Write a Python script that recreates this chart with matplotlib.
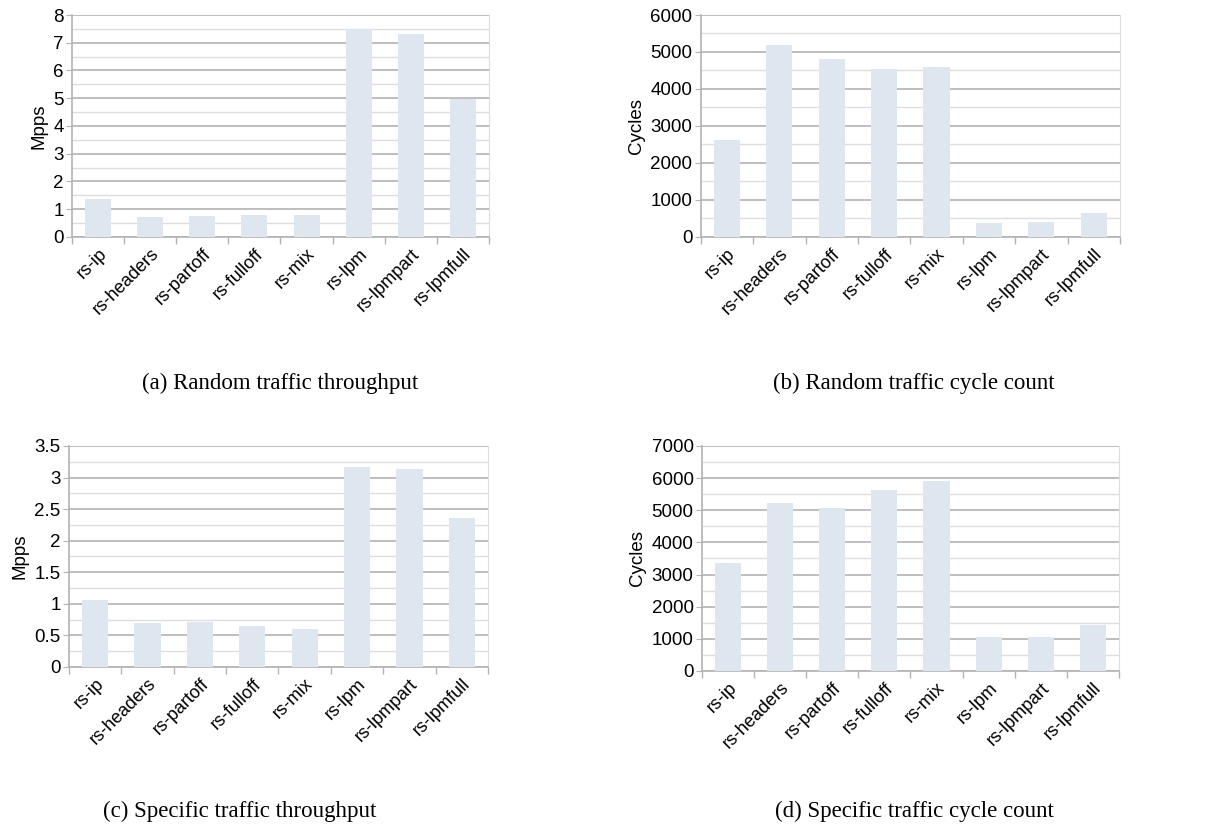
import numpy as np
import matplotlib
matplotlib.use("Agg")
import matplotlib.pyplot as plt
from matplotlib.ticker import MultipleLocator, FixedLocator, NullFormatter, FuncFormatter

plt.rcParams["font.family"] = ["Liberation Sans", "DejaVu Sans"]

categories = ["rs-ip", "rs-headers", "rs-partoff", "rs-fulloff",
              "rs-mix", "rs-lpm", "rs-lpmpart", "rs-lpmfull"]

random_mpps = [1.37, 0.71, 0.76, 0.80, 0.79, 7.50, 7.33, 4.96]
random_cycles = [2610, 5200, 4820, 4530, 4590, 390, 405, 640]
specific_mpps = [1.06, 0.69, 0.717, 0.643, 0.606, 3.17, 3.13, 2.36]
specific_cycles = [3370, 5227, 5060, 5631, 5921, 1047, 1068, 1441]

captions = ["(a) Random traffic throughput", "(b) Random traffic cycle count",
            "(c) Specific traffic throughput", "(d) Specific traffic cycle count"]

BAR = "#dee6ef"
MAJOR = "#b3b3b3"
MINOR = "#dddddd"

fig = plt.figure(figsize=(12.19, 8.38), dpi=100)

panels = [
    # values, ylabel, ymax, major step, axes rect
    (random_mpps, "Mpps", 8, 1, [0.0591, 0.7172, 0.342, 0.2649]),
    (random_cycles, "Cycles", 6000, 1000, [0.5748, 0.7172, 0.344, 0.2649]),
    (specific_mpps, "Mpps", 3.5, 0.5, [0.0566, 0.2041, 0.3437, 0.2637]),
    (specific_cycles, "Cycles", 7000, 1000, [0.5759, 0.1993, 0.342, 0.2685]),
]

for vals, ylab, ymax, step, rect in panels:
    ax = fig.add_axes(rect)
    x = np.arange(len(categories))
    ax.bar(x, vals, width=0.5, color=BAR, zorder=3)
    ax.set_xlim(-0.5, len(categories) - 0.5)
    ax.set_ylim(0, ymax)

    ax.yaxis.set_major_locator(MultipleLocator(step))
    ax.yaxis.set_minor_locator(MultipleLocator(step / 2))
    ax.yaxis.set_major_formatter(FuncFormatter(lambda v, p: "{:g}".format(v)))
    ax.grid(axis="y", which="major", color=MAJOR, linewidth=1.2, zorder=0)
    ax.grid(axis="y", which="minor", color=MINOR, linewidth=1.0, zorder=0)
    ax.set_axisbelow(True)

    ax.set_xticks(x)
    ax.set_xticklabels(categories, rotation=45, ha="right",
                       rotation_mode="anchor", fontsize=13)
    ax.tick_params(axis="x", which="major", length=0, pad=6)
    ax.xaxis.set_minor_locator(FixedLocator(np.arange(-0.5, len(categories), 1)))
    ax.xaxis.set_minor_formatter(NullFormatter())
    ax.tick_params(axis="x", which="minor", length=5, color=MAJOR, width=1)

    ax.tick_params(axis="y", which="major", length=4, color=MAJOR, labelsize=13.5, pad=2)
    ax.tick_params(axis="y", which="minor", length=0)
    ax.set_ylabel(ylab, fontsize=13.5, labelpad=4)

    for side in ["left", "bottom"]:
        ax.spines[side].set_color(MAJOR)
        ax.spines[side].set_linewidth(1.2)
    ax.spines["right"].set_color(MINOR)
    ax.spines["top"].set_visible(False)

cap_pos = [(0.23, 0.543), (0.75, 0.543), (0.197, 0.032), (0.75, 0.032)]
for (cx, cy), cap in zip(cap_pos, captions):
    fig.text(cx, cy, cap, ha="center", va="center", fontsize=16.5,
             family=["Liberation Serif", "DejaVu Serif"])

fig.savefig("out.png", dpi=100)
